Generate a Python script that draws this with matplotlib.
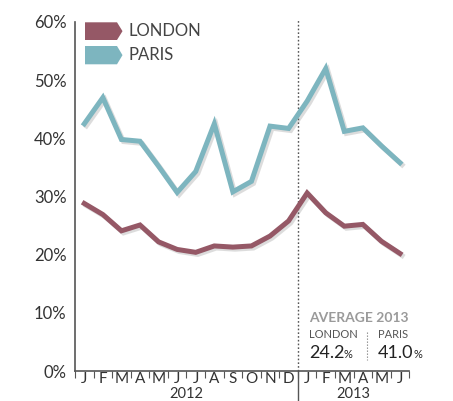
import matplotlib
matplotlib.use("Agg")
import matplotlib.pyplot as plt
import matplotlib.patheffects as pe
import matplotlib.transforms as mtransforms
from matplotlib.patches import Polygon
from matplotlib.lines import Line2D

months = ["J", "F", "M", "A", "M", "J", "J", "A", "S", "O", "N", "D",
          "J", "F", "M", "A", "M", "J"]
years = ["2012", "2013"]
london = [28.8, 26.9, 24.1, 25.1, 22.2, 20.9, 20.4, 21.5, 21.3, 21.5, 23.2, 25.8,
          30.6, 27.2, 24.9, 25.2, 22.3, 20.2]
paris = [42.5, 47.0, 39.8, 39.5, 35.2, 30.7, 34.3, 42.5, 30.8, 32.6, 42.1, 41.7,
         46.4, 52.0, 41.2, 41.8, 38.7, 35.8]
yticks = [0, 10, 20, 30, 40, 50, 60]
series_names = ["LONDON", "PARIS"]
avg_values = ["24.2", "41.0"]

C_LON = "#955866"
C_PAR = "#7db5bf"
TXT = "#333333"

plt.rcParams['font.family'] = ['Lato', 'DejaVu Sans']

W, H = 453, 401
fig = plt.figure(figsize=(W / 100, H / 100), dpi=100)
fig.patch.set_facecolor("white")

def fx(px):
    return px / W

def fy(py):
    return (H - py) / H

ax = fig.add_axes([fx(75), fy(371), fx(409.3) - fx(75), fy(22) - fy(371)])
ax.set_xlim(0, len(months))
ax.set_ylim(0, 60)

xs = [i + 0.5 for i in range(len(months))]
shadow = [pe.SimpleLineShadow(offset=(1.5, -1.5), alpha=0.25, shadow_color="#777777"), pe.Normal()]
ax.plot(xs, paris, color=C_PAR, lw=3.6, solid_joinstyle="miter", path_effects=shadow, zorder=3)
ax.plot(xs, london, color=C_LON, lw=3.6, solid_joinstyle="miter", path_effects=shadow, zorder=3)

for s in ["top", "right"]:
    ax.spines[s].set_visible(False)
ax.spines["left"].set_color("#555555")
ax.spines["bottom"].set_color("#555555")
ax.spines["left"].set_linewidth(1.2)
ax.spines["bottom"].set_linewidth(1.2)

ax.set_yticks(yticks)
ax.set_yticklabels([f"{v}%" for v in yticks], fontsize=12, color=TXT)
ax.tick_params(axis="y", length=0, pad=6)

ax.set_xticks(range(len(months) + 1))
ax.set_xticklabels([])
ax.tick_params(axis="x", which="major", length=5, width=0.8, color="#555555", direction="out")
ax.set_xticks(xs, minor=True)
ax.set_xticklabels(months, minor=True, fontsize=11, color=TXT)
ax.tick_params(axis="x", which="minor", length=0, pad=1)

# year labels
blend = mtransforms.blended_transform_factory(ax.transData, fig.transFigure)
for xc, yr in [(6, years[0]), (15, years[1])]:
    fig.text(xc, fy(400.5), yr, ha="center", va="bottom", fontsize=10.5, color=TXT, transform=blend)

# year boundary dotted line
ax.add_line(Line2D([12, 12], [0, 1.005], transform=ax.get_xaxis_transform(), color="#555555",
                   lw=1.0, linestyle=(0, (1.2, 1.5)), clip_on=False, zorder=1))
ax.add_line(Line2D([12, 12], [-0.085, 0], transform=ax.get_xaxis_transform(), color="#555555",
                   lw=1.0, clip_on=False))

# legend tags
for (top, bot), col, name in [((22.3, 40), C_LON, series_names[0]), ((46, 64.3), C_PAR, series_names[1])]:
    mid = (top + bot) / 2
    pts = [(fx(85), fy(top)), (fx(117), fy(top)), (fx(122.5), fy(mid)), (fx(117), fy(bot)), (fx(85), fy(bot))]
    fig.patches.append(Polygon(pts, closed=True, transform=fig.transFigure, facecolor=col, edgecolor="none"))
    fig.text(fx(129), fy(mid), name, ha="left", va="center", fontsize=12, color="#444444")

# average annotation
fig.text(fx(309), fy(318), "AVERAGE 2013", ha="left", va="center", fontsize=10, fontweight="bold", color="#9a9a9a")
fig.text(fx(309), fy(335), series_names[0], ha="left", va="center", fontsize=8, color="#555555")
fig.text(fx(378), fy(335), series_names[1], ha="left", va="center", fontsize=8, color="#555555")
t1 = fig.text(fx(309), fy(353), avg_values[0], ha="left", va="center", fontsize=13, color="#222222")
t2 = fig.text(fx(378), fy(353), avg_values[1], ha="left", va="center", fontsize=13, color="#222222")
fig.canvas.draw()
r = fig.canvas.get_renderer()
for t in (t1, t2):
    bb = t.get_window_extent(r)
    fig.text((bb.x1 - 0.5) / W, fy(355), "%", ha="left", va="center", fontsize=8, color="#222222")
fig.add_artist(Line2D([fx(367.3), fx(367.3)], [fy(331.7), fy(360)], transform=fig.transFigure,
                      color="#888888", lw=0.8, linestyle=(0, (1.2, 1.5))))

fig.savefig("out.png", dpi=100, facecolor="white")
